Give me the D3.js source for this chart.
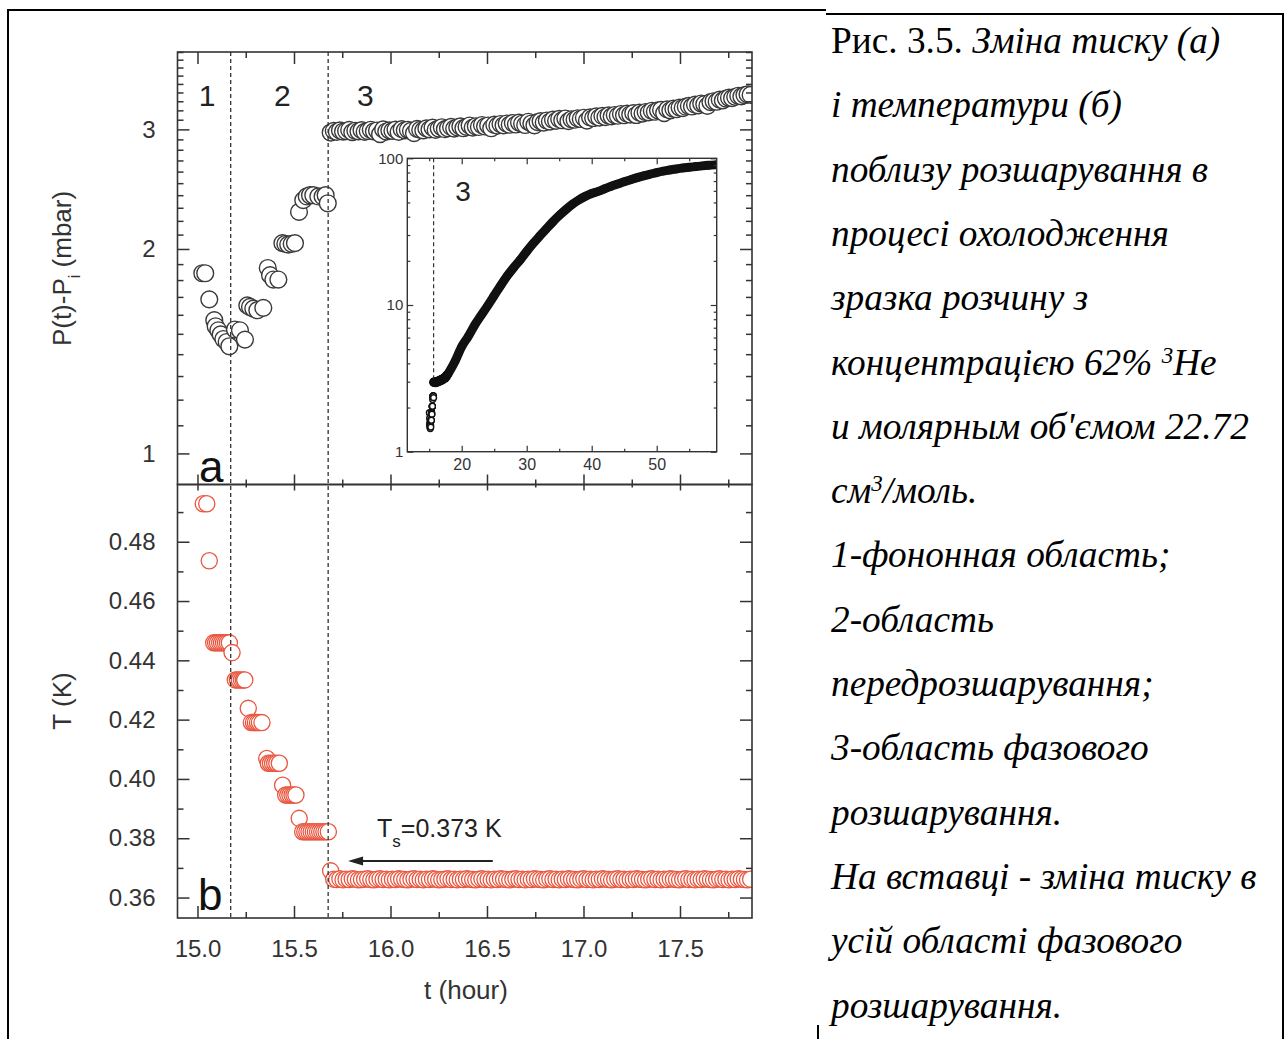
<!DOCTYPE html>
<html>
<head>
<meta charset="utf-8">
<script src="https://cdn.jsdelivr.net/npm/d3@7/dist/d3.min.js"></script>
<style>
html,body{margin:0;padding:0;background:#fff;}
svg{display:block;}
</style>
</head>
<body>
<svg id="fig" width="1288" height="1039"></svg>
<script>
// ================= DATA =================
// axis ticks
const xMajorTicks = [15.0, 15.5, 16.0, 16.5, 17.0, 17.5];
const xMinorTicks = [15.25, 15.75, 16.25, 16.75, 17.25, 17.75];
const pMajorTicks = [1, 2, 3];
const pMinorTicks = [1.1,1.2,1.3,1.4,1.5,1.6,1.7,1.8,1.9,2.1,2.2,2.3,2.4,2.5,2.6,2.7,2.8,2.9,3.1,3.2,3.3,3.4,3.5,3.6,3.7,3.8,3.9];
const tMajorTicks = [0.36, 0.38, 0.40, 0.42, 0.44, 0.46, 0.48];
const tMinorTicks = [0.37, 0.39, 0.41, 0.43, 0.45, 0.47, 0.49];
const insetXMajorTicks = [20, 30, 40, 50];
const insetXMinorTicks = [15, 25, 35, 45, 55];
const insetYMajorTicks = [1, 10, 100];
const insetYMinorTicks = [2,3,4,5,6,7,8,9,20,30,40,50,60,70,80,90];

// axis ranges
const xDomain = [14.8964, 17.8731];
const pDomain = [0.9, 3.9];
const tDomain = [0.3531, 0.4993];
const insetXDomain = [11.63, 59.23];
const insetYDomain = [1, 100];

// region boundaries (hours) and names
const regionBounds = [15.172, 15.677];
const regionNames = ["1", "2", "3"];
const regionLabelTimes = [15.05, 15.44, 15.87];

// (a) pressure, regions 1-2
const earlyTimeP = [15.025,15.040,15.061,15.087,15.094,15.108,15.120,15.134,15.151,15.165,
  15.194,15.220,15.246,15.258,15.272,15.289,15.310,15.341,15.364,15.376,15.393,15.419,
  15.440,15.455,15.470,15.488,15.505,15.526,15.548,15.566,15.583,15.600,15.626,15.648,15.664,15.675];
const earlyP = [1.842,1.842,1.686,1.571,1.539,1.518,1.497,1.474,1.459,1.438,
  1.522,1.518,1.471,1.652,1.643,1.634,1.625,1.638,1.875,1.830,1.803,1.803,
  2.040,2.035,2.030,2.035,2.040,2.268,2.360,2.390,2.400,2.400,2.390,2.390,2.400,2.335];

// region 3 sampling times (shared by both panels)
const time3 = [15.690,15.706,15.722,15.738,15.754,15.770,15.786,15.802,15.818,15.834,
  15.850,15.866,15.882,15.898,15.914,15.930,15.946,15.962,15.978,15.994,
  16.010,16.026,16.042,16.058,16.074,16.090,16.106,16.122,16.138,16.154,
  16.170,16.186,16.202,16.218,16.234,16.250,16.266,16.282,16.298,16.314,
  16.330,16.346,16.362,16.378,16.394,16.410,16.426,16.442,16.458,16.474,
  16.490,16.506,16.522,16.538,16.554,16.570,16.586,16.602,16.618,16.634,
  16.650,16.666,16.682,16.698,16.714,16.730,16.746,16.762,16.778,16.794,
  16.810,16.826,16.842,16.858,16.874,16.890,16.906,16.922,16.938,16.954,
  16.970,16.986,17.002,17.018,17.034,17.050,17.066,17.082,17.098,17.114,
  17.130,17.146,17.162,17.178,17.194,17.210,17.226,17.242,17.258,17.274,
  17.290,17.306,17.322,17.338,17.354,17.370,17.386,17.402,17.418,17.434,
  17.450,17.466,17.482,17.498,17.514,17.530,17.546,17.562,17.578,17.594,
  17.610,17.626,17.642,17.658,17.674,17.690,17.706,17.722,17.738,17.754,
  17.770,17.786,17.802,17.818,17.834,17.850,17.866];

// (a) pressure, region 3
const p3 = [2.968,2.985,2.975,2.990,2.978,2.983,2.995,2.972,2.986,2.980,
  2.992,2.975,2.984,2.996,2.980,2.988,2.952,3.000,2.978,2.990,
  2.985,2.998,2.975,3.002,2.990,2.996,2.985,2.962,3.005,2.995,
  2.990,3.010,3.000,3.018,2.995,3.008,3.022,3.002,3.012,3.025,
  3.008,3.020,3.030,3.012,3.026,3.040,3.018,3.032,3.025,3.045,
  3.030,3.040,3.012,3.048,3.038,3.055,3.042,3.060,3.048,3.065,
  3.050,3.070,3.058,3.045,3.078,3.060,3.042,3.075,3.085,3.070,
  3.092,3.080,3.100,3.088,3.108,3.095,3.112,3.085,3.105,3.100,
  3.115,3.108,3.120,3.090,3.125,3.118,3.135,3.122,3.140,3.128,
  3.145,3.135,3.150,3.142,3.160,3.148,3.165,3.155,3.170,3.150,
  3.175,3.165,3.182,3.178,3.195,3.185,3.200,3.205,3.170,3.210,
  3.200,3.218,3.212,3.230,3.225,3.240,3.248,3.242,3.262,3.255,
  3.275,3.268,3.250,3.290,3.300,3.295,3.318,3.310,3.330,3.340,
  3.335,3.350,3.362,3.355,3.370,3.378,3.372];

// (b) temperature, regions 1-2
const earlyTimeT = [15.030,15.048,15.061,15.084,15.094,15.104,15.115,15.125,15.135,15.145,15.155,15.165,
  15.179,15.196,15.207,15.217,15.228,15.238,15.245,15.263,15.279,15.290,15.300,15.311,15.321,15.334,
  15.359,15.367,15.378,15.389,15.400,15.411,15.424,15.441,15.457,15.468,15.479,15.490,15.500,15.510,
  15.527,15.545,15.556,15.567,15.578,15.589,15.600,15.611,15.622,15.633,15.644,15.655,15.666,15.678];
const earlyT = [0.4928,0.4928,0.4736,0.4459,0.4459,0.4459,0.4459,0.4459,0.4459,0.4459,0.4459,0.4459,
  0.4426,0.4334,0.4334,0.4334,0.4334,0.4334,0.4334,0.4238,0.4190,0.4190,0.4190,0.4190,0.4190,0.4190,
  0.4069,0.4053,0.4053,0.4053,0.4053,0.4053,0.4053,0.3979,0.3946,0.3946,0.3946,0.3946,0.3946,0.3946,
  0.3867,0.3822,0.3822,0.3822,0.3822,0.3822,0.3822,0.3822,0.3822,0.3822,0.3822,0.3822,0.3822,0.3822];

// (b) temperature, region 3
const temp3 = [0.3690,0.3662,0.3661,0.3663,0.3660,0.3662,0.3661,0.3663,0.3662,0.3660,
  0.3661,0.3662,0.3663,0.3661,0.3660,0.3662,0.3663,0.3661,0.3662,0.3660,
  0.3662,0.3661,0.3663,0.3662,0.3661,0.3660,0.3662,0.3663,0.3661,0.3662,
  0.3660,0.3662,0.3661,0.3663,0.3662,0.3660,0.3661,0.3662,0.3663,0.3661,
  0.3662,0.3660,0.3662,0.3661,0.3663,0.3662,0.3661,0.3660,0.3662,0.3663,
  0.3661,0.3662,0.3660,0.3662,0.3661,0.3663,0.3662,0.3661,0.3660,0.3662,
  0.3663,0.3661,0.3662,0.3660,0.3662,0.3661,0.3663,0.3662,0.3661,0.3660,
  0.3662,0.3663,0.3661,0.3662,0.3660,0.3662,0.3661,0.3663,0.3662,0.3661,
  0.3660,0.3662,0.3663,0.3661,0.3662,0.3660,0.3662,0.3661,0.3663,0.3662,
  0.3661,0.3660,0.3662,0.3663,0.3661,0.3662,0.3660,0.3662,0.3661,0.3663,
  0.3662,0.3661,0.3660,0.3662,0.3663,0.3661,0.3662,0.3660,0.3662,0.3661,
  0.3663,0.3662,0.3661,0.3660,0.3662,0.3663,0.3661,0.3662,0.3660,0.3662,
  0.3661,0.3663,0.3662,0.3661,0.3660,0.3662,0.3663,0.3661,0.3662,0.3660,
  0.3662,0.3661,0.3663,0.3662,0.3661,0.3660,0.3662];

// inset: long-term pressure (hours, mbar)
const insetTime = [18,19,20,21,22,23,24,25,26,27,28,29,30,31,32,33,34,35,36,37,38,39,40,
  41,42,43,44,45,46,47,48,49,50,51,52,53,54,55,56,57,58,59];
const insetP = [3.45,4.15,5.2,6.1,7.3,8.5,9.9,11.6,13.6,15.8,18.0,20.3,23.2,26.3,29.5,33.0,36.8,40.7,44.6,48.5,52.0,55.0,57.5,
  59.5,62.0,64.5,66.8,69.2,71.5,73.8,76.0,78.0,80.0,81.8,83.3,84.6,85.8,86.8,87.8,88.8,89.6,90.2];

// annotation
const tsArrow = {from: 16.53, to: 15.78, T: 0.3723};

// caption (segments: text, italic, superscript)
const captionLines = [
  [["Рис. 3.5. ", false], ["Зміна тиску (а)", true]],
  [["і температури (б)", true]],
  [["поблизу розшарування в", true]],
  [["процесі охолодження", true]],
  [["зразка розчину з", true]],
  [["концентрацією 62% ", true], ["3", true, true], ["Не", true]],
  [["и молярным об'ємом 22.72", true]],
  [["см", true], ["3", true, true], ["/моль.", true]],
  [["1-фононная область;", true]],
  [["2-область", true]],
  [["передрозшарування;", true]],
  [["3-область фазового", true]],
  [["розшарування.", true]],
  [["На вставці - зміна тиску в", true]],
  [["усій області фазового", true]],
  [["розшарування.", true]]
];

// ================= DRAW =================
const FONT = "'Liberation Sans', Arial, Helvetica, sans-serif";
const SERIF = "'Liberation Serif', 'Times New Roman', serif";
const INK = "#333";
const RED = "#e9553e";

const svg = d3.select("#fig");
svg.append("rect").attr("width", 1288).attr("height", 1039).attr("fill", "#fff");

// table borders
const border = svg.append("g").attr("stroke", "#000").attr("stroke-width", 2).attr("fill", "none");
border.append("line").attr("x1", 8).attr("y1", 9).attr("x2", 8).attr("y2", 1039);
border.append("line").attr("x1", 7).attr("y1", 10).attr("x2", 826).attr("y2", 10);
border.append("line").attr("x1", 826).attr("y1", 14).attr("x2", 1284).attr("y2", 14);
border.append("line").attr("x1", 1283).attr("y1", 13).attr("x2", 1283).attr("y2", 1039);
border.append("line").attr("x1", 818).attr("y1", 1025).attr("x2", 818).attr("y2", 1039);

// geometry
const L = 177.5, R = 752, T0 = 52, MID = 484.5, B1 = 918;
const x = d3.scaleLinear().domain(xDomain).range([L, R]);
const yP = d3.scaleLog().domain(pDomain).range([MID, T0]);
const yT = d3.scaleLinear().domain(tDomain).range([B1, MID]);
const xi = d3.scaleLinear().domain(insetXDomain).range([407.3, 716.7]);
const yi = d3.scaleLog().domain(insetYDomain).range([451.7, 158.3]);

const defs = svg.append("defs");
defs.append("clipPath").attr("id", "clipTop").append("rect").attr("x", L).attr("y", T0).attr("width", R - L).attr("height", MID - T0);
defs.append("clipPath").attr("id", "clipBot").append("rect").attr("x", L).attr("y", MID).attr("width", R - L).attr("height", B1 - MID);
defs.append("clipPath").attr("id", "clipIn").append("rect").attr("x", 407.3).attr("y", 158.3).attr("width", 309.4).attr("height", 293.4);

function axisPair(sel, gen, scale, major, minor, majLen, minLen, fmt, pad, fs, sw) {
  const a1 = gen(scale).tickValues(major).tickSizeInner(-majLen).tickSizeOuter(0).tickPadding(pad)
    .tickFormat(fmt ? fmt : () => "");
  const a2 = gen(scale).tickValues(minor).tickSizeInner(-minLen).tickSizeOuter(0).tickFormat(() => "");
  [sel.append("g").call(a1), sel.append("g").call(a2)].forEach(g => {
    g.select(".domain").remove();
    g.attr("font-family", FONT).attr("font-size", fs);
    g.selectAll("line").attr("stroke", INK).attr("stroke-width", sw);
    g.selectAll("text").attr("fill", INK);
  });
}

// ---- panel (a) data
const topData = earlyTimeP.map((t, i) => ({t, v: earlyP[i]}))
  .concat(time3.map((t, i) => ({t, v: p3[i]})));
svg.append("g").attr("clip-path", "url(#clipTop)")
  .selectAll("circle").data(topData).join("circle")
  .attr("cx", d => x(d.t)).attr("cy", d => yP(d.v)).attr("r", 8.4)
  .attr("fill", "#fff").attr("stroke", "#3a3a3a").attr("stroke-width", 1.4);

// ---- panel (b) data
const botData = earlyTimeT.map((t, i) => ({t, v: earlyT[i]}))
  .concat(time3.map((t, i) => ({t, v: temp3[i]})));
svg.append("g").attr("clip-path", "url(#clipBot)")
  .selectAll("circle").data(botData).join("circle")
  .attr("cx", d => x(d.t)).attr("cy", d => yT(d.v)).attr("r", 8.1)
  .attr("fill", "#fff").attr("stroke", RED).attr("stroke-width", 1.3);

// region dashed lines
svg.append("g").selectAll("line").data(regionBounds).join("line")
  .attr("x1", d => x(d)).attr("x2", d => x(d)).attr("y1", T0).attr("y2", B1)
  .attr("stroke", "#333").attr("stroke-width", 1.3).attr("stroke-dasharray", "4,3");

// frames
svg.append("rect").attr("x", L).attr("y", T0).attr("width", R - L).attr("height", MID - T0)
  .attr("fill", "none").attr("stroke", INK).attr("stroke-width", 1.6);
svg.append("rect").attr("x", L).attr("y", MID).attr("width", R - L).attr("height", B1 - MID)
  .attr("fill", "none").attr("stroke", INK).attr("stroke-width", 1.6);

// axes panel (a)
const fmtP = d3.format("d"), fmtT = d3.format(".2f"), fmtX = d3.format(".1f");
const TICKFS = 24;
axisPair(svg.append("g").attr("transform", `translate(${L},0)`), d3.axisLeft, yP, pMajorTicks, pMinorTicks, 12, 6, fmtP, 22, TICKFS, 1.5);
axisPair(svg.append("g").attr("transform", `translate(${R},0)`), d3.axisRight, yP, pMajorTicks, pMinorTicks, 12, 6, null, 0, TICKFS, 1.5);
axisPair(svg.append("g").attr("transform", `translate(0,${T0})`), d3.axisTop, x, xMajorTicks, xMinorTicks, 12, 6, null, 0, TICKFS, 1.5);
axisPair(svg.append("g").attr("transform", `translate(0,${MID})`), d3.axisBottom, x, xMajorTicks, xMinorTicks, 10, 5, null, 0, TICKFS, 1.5);
// axes panel (b)
axisPair(svg.append("g").attr("transform", `translate(${L},0)`), d3.axisLeft, yT, tMajorTicks, tMinorTicks, 12, 6, fmtT, 22, TICKFS, 1.5);
axisPair(svg.append("g").attr("transform", `translate(${R},0)`), d3.axisRight, yT, tMajorTicks, tMinorTicks, 12, 6, null, 0, TICKFS, 1.5);
axisPair(svg.append("g").attr("transform", `translate(0,${MID})`), d3.axisTop, x, xMajorTicks, xMinorTicks, 6, 3, null, 0, TICKFS, 1.5);
axisPair(svg.append("g").attr("transform", `translate(0,${B1})`), d3.axisBottom, x, xMajorTicks, xMinorTicks, 12, 6, fmtX, 22, TICKFS, 1.5);

// region labels
svg.append("g").selectAll("text").data(regionNames).join("text")
  .attr("x", (d, i) => x(regionLabelTimes[i])).attr("y", 106)
  .attr("text-anchor", "middle").attr("font-family", FONT).attr("font-size", 30).attr("fill", "#222")
  .text(d => d);

// panel letters
svg.append("text").attr("x", 199).attr("y", 482).attr("font-family", FONT).attr("font-size", 44).attr("fill", "#111").text("a");
svg.append("text").attr("x", 198).attr("y", 910).attr("font-family", FONT).attr("font-size", 44).attr("fill", "#111").text("b");

// axis titles
const TITLEFS = 26;
const ttl = svg.append("text").attr("transform", "translate(71,268.5) rotate(-90)")
  .attr("text-anchor", "middle").attr("font-family", FONT).attr("font-size", TITLEFS).attr("fill", INK);
ttl.append("tspan").text("P(t)-P");
ttl.append("tspan").attr("font-size", 16).attr("baseline-shift", "sub").text("i");
ttl.append("tspan").text(" (mbar)");
svg.append("text").attr("transform", "translate(71,701) rotate(-90)")
  .attr("text-anchor", "middle").attr("font-family", FONT).attr("font-size", TITLEFS).attr("fill", INK).text("T (K)");
svg.append("text").attr("x", 466).attr("y", 999)
  .attr("text-anchor", "middle").attr("font-family", FONT).attr("font-size", TITLEFS).attr("fill", INK).text("t (hour)");

// Ts annotation
const ay = yT(tsArrow.T);
const ax1 = x(tsArrow.from), ax0 = x(tsArrow.to);
svg.append("line").attr("x1", ax1).attr("x2", ax0 + 12).attr("y1", ay).attr("y2", ay)
  .attr("stroke", "#222").attr("stroke-width", 2);
svg.append("path").attr("d", `M${ax0},${ay} L${ax0 + 15},${ay - 4.5} L${ax0 + 15},${ay + 4.5} Z`).attr("fill", "#222");
const ts = svg.append("text").attr("x", 377).attr("y", 837).attr("font-family", FONT).attr("font-size", 25).attr("fill", "#222");
ts.append("tspan").text("T");
ts.append("tspan").attr("font-size", 17).attr("baseline-shift", "sub").text("s");
ts.append("tspan").text("=0.373 K");

// ---- inset
const inset = svg.append("g");
inset.append("rect").attr("x", 407.3).attr("y", 158.3).attr("width", 309.4).attr("height", 293.4).attr("fill", "#fff");
const insetLineData = time3.map((t, i) => ({t, v: p3[i]})).concat(insetTime.map((t, i) => ({t, v: insetP[i]})));
const ig = inset.append("g").attr("clip-path", "url(#clipIn)");
ig.append("path").datum(insetLineData)
  .attr("d", d3.line().x(d => xi(d.t)).y(d => yi(d.v)).curve(d3.curveMonotoneX))
  .attr("fill", "none").attr("stroke", "#111").attr("stroke-width", 9).attr("stroke-linecap", "round");
ig.selectAll("circle.e").data(earlyTimeP.map((t, i) => ({t, v: earlyP[i]}))).join("circle")
  .attr("class", "e").attr("cx", d => xi(d.t)).attr("cy", d => yi(d.v)).attr("r", 2.9)
  .attr("fill", "#fff").attr("stroke", "#111").attr("stroke-width", 1.4);
ig.selectAll("circle.l").data(insetLineData).join("circle")
  .attr("class", "l").attr("cx", d => xi(d.t)).attr("cy", d => yi(d.v)).attr("r", 3.6)
  .attr("fill", "#111").attr("stroke", "#111").attr("stroke-width", 1.2);
// inset dashed boundary
inset.append("line").attr("x1", xi(regionBounds[1])).attr("x2", xi(regionBounds[1]))
  .attr("y1", yi(insetYDomain[1])).attr("y2", yi(p3[0]) - 4)
  .attr("stroke", "#333").attr("stroke-width", 1.2).attr("stroke-dasharray", "4,3");
inset.append("rect").attr("x", 407.3).attr("y", 158.3).attr("width", 309.4).attr("height", 293.4)
  .attr("fill", "none").attr("stroke", INK).attr("stroke-width", 1.4);
const fmtI = d3.format("d");
axisPair(inset.append("g").attr("transform", "translate(407.3,0)"), d3.axisLeft, yi, insetYMajorTicks, insetYMinorTicks, 6, 3, fmtI, 4, 15, 1.2);
axisPair(inset.append("g").attr("transform", "translate(716.7,0)"), d3.axisRight, yi, insetYMajorTicks, insetYMinorTicks, 6, 3, null, 0, 15, 1.2);
axisPair(inset.append("g").attr("transform", "translate(0,158.3)"), d3.axisTop, xi, insetXMajorTicks, insetXMinorTicks, 6, 3, null, 0, 15, 1.2);
axisPair(inset.append("g").attr("transform", "translate(0,451.7)"), d3.axisBottom, xi, insetXMajorTicks, insetXMinorTicks, 6, 3, fmtI, 7, 16, 1.2);
inset.append("text").attr("x", xi(20.2)).attr("y", 201).attr("text-anchor", "middle")
  .attr("font-family", FONT).attr("font-size", 28).attr("fill", "#222").text(regionNames[2]);

// ---- caption
const cap = svg.append("g").attr("font-family", SERIF).attr("font-size", 37.3).attr("fill", "#000");
captionLines.forEach((segs, i) => {
  const tx = cap.append("text").attr("x", 831).attr("y", 53 + i * 64.3);
  segs.forEach(s => {
    const sp = tx.append("tspan").text(s[0]).attr("font-style", s[1] ? "italic" : "normal");
    if (s[2]) sp.attr("font-size", 23).attr("baseline-shift", "super");
  });
});
</script>
</body>
</html>
